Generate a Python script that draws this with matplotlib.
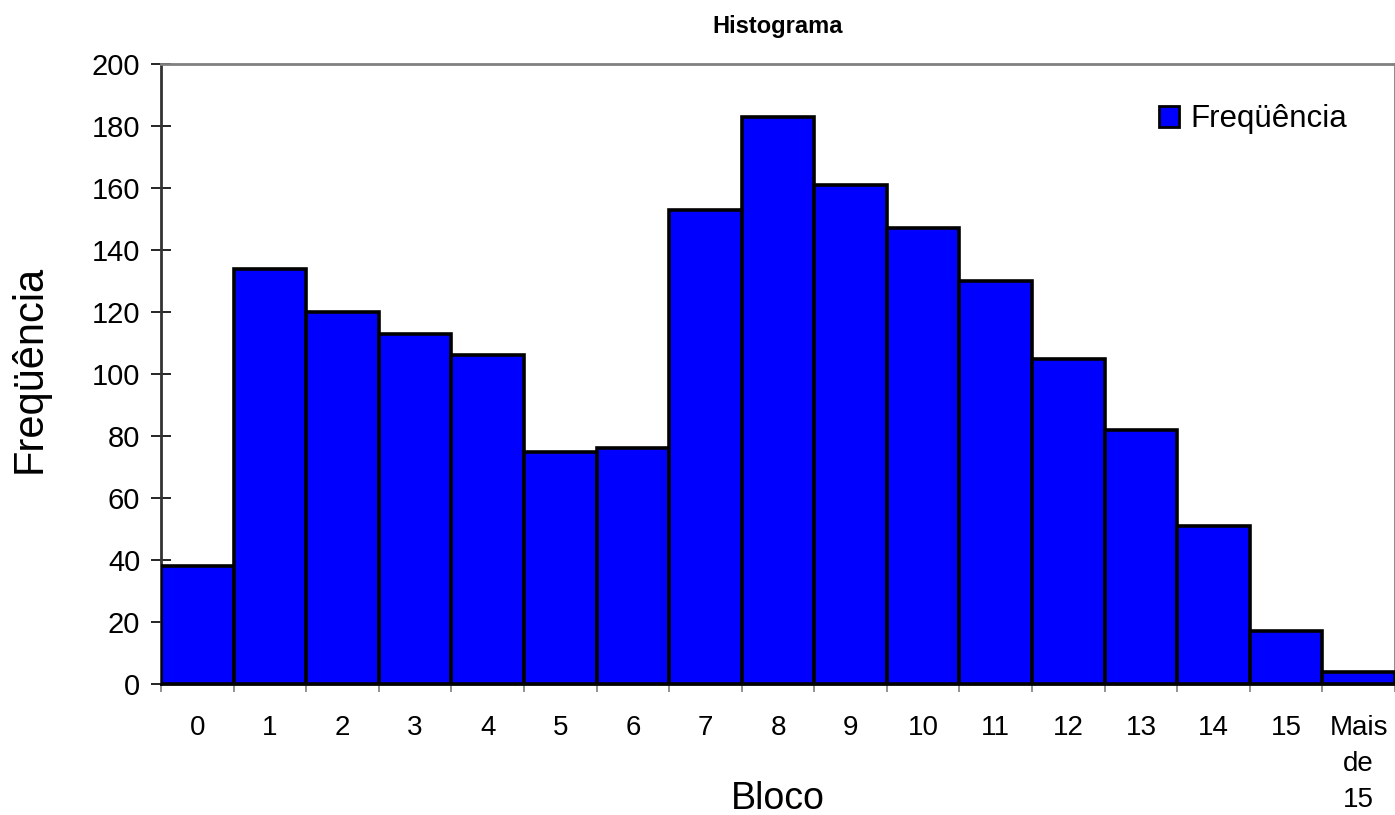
import matplotlib
matplotlib.use("Agg")
import matplotlib.pyplot as plt
from matplotlib.patches import Patch

categories = ["0", "1", "2", "3", "4", "5", "6", "7", "8", "9", "10",
              "11", "12", "13", "14", "15", "Mais\nde\n15"]
frequencia = [38, 134, 120, 113, 106, 75, 76, 153, 183, 161, 147,
              130, 105, 82, 51, 17, 4]
y_ticks = [0, 20, 40, 60, 80, 100, 120, 140, 160, 180, 200]

plt.rcParams['font.family'] = ['Liberation Sans', 'DejaVu Sans']

W, H = 1395, 815
fig = plt.figure(figsize=(W / 100, H / 100), dpi=100)
ax = fig.add_axes([161 / W, (H - 684) / H, (W - 161) / W, 620 / H])

x = list(range(len(categories)))
ax.bar(x, frequencia, width=1.0, color='#0000FF', edgecolor='black',
       linewidth=2.6, zorder=3)

ax.set_xlim(-0.5, len(categories) - 0.5)
ax.set_ylim(0, 200)
ax.set_yticks(y_ticks)
ax.set_yticklabels([str(v) for v in y_ticks], fontsize=21)
ax.set_xticks([i - 0.5 for i in x] + [len(x) - 0.5])
ax.set_xticklabels([])
ax.tick_params(axis='x', which='major', direction='out', length=6,
               width=1.2, color='#808080')
ax.set_xticks(x, minor=True)
ax.set_xticklabels(categories, minor=True, fontsize=20, linespacing=1.5)
ax.tick_params(axis='x', which='minor', length=0, pad=22)
ax.tick_params(axis='y', direction='inout', length=14, width=1.2,
               color='black', pad=8)

for s in ['top', 'right']:
    ax.spines[s].set_color('#808080')
    ax.spines[s].set_linewidth(2)
ax.spines['left'].set_color('#333333')
ax.spines['left'].set_linewidth(2)
ax.spines['bottom'].set_color('black')
ax.spines['bottom'].set_linewidth(2)

ax.set_title('Histograma', fontsize=17, fontweight='bold', pad=22)
ax.set_ylabel('Freqüência', fontsize=30, va='center')
ax.yaxis.set_label_coords((30 - 161) / (W - 161), (684 - 369) / 620)
ax.set_xlabel('Bloco', fontsize=27, va='center')
ax.xaxis.set_label_coords(0.5, (684 - 799) / 620)

handle = Patch(facecolor='#0000FF', edgecolor='black', linewidth=2)
ax.legend([handle], ['Freqüência'], loc='upper right', frameon=False,
          fontsize=22.5, handlelength=0.65, handleheight=0.65,
          handletextpad=0.35, borderaxespad=0,
          bbox_to_anchor=(0.971, 0.955))

fig.savefig('out.png', dpi=100)
